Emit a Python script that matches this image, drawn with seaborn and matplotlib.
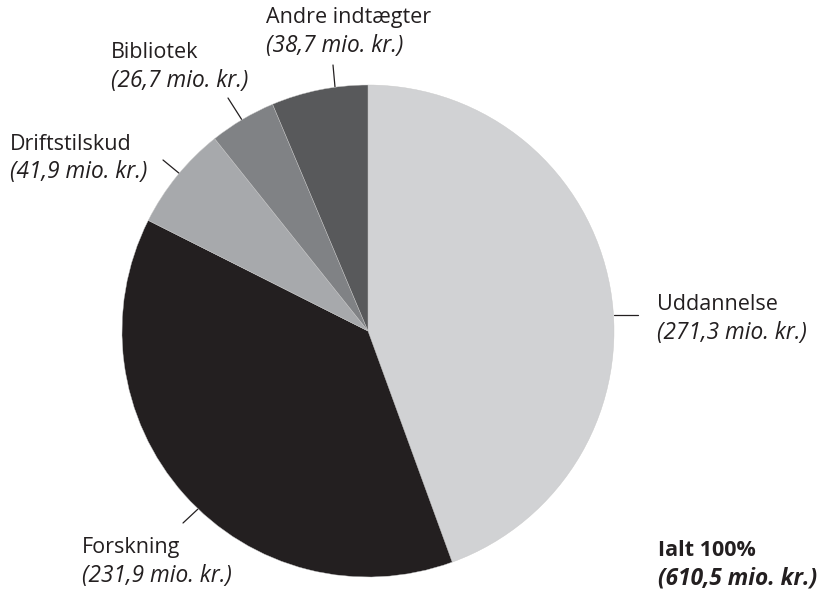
import matplotlib
matplotlib.use("Agg")
import matplotlib.pyplot as plt
import seaborn as sns

categories = ["Uddannelse", "Forskning", "Driftstilskud", "Bibliotek", "Andre indtægter"]
values = [271.3, 231.9, 41.9, 26.7, 38.7]
value_labels = ["(271,3 mio. kr.)", "(231,9 mio. kr.)", "(41,9 mio. kr.)", "(26,7 mio. kr.)", "(38,7 mio. kr.)"]
total_label = "Ialt 100%"
total_value_label = "(610,5 mio. kr.)"
colors = ["#d1d2d4", "#231f20", "#a7a9ac", "#808285", "#58595b"]

sns.set_style("white")
plt.rcParams['font.family'] = ['Open Sans', 'DejaVu Sans']

W, H = 821, 599
fig = plt.figure(figsize=(W / 100, H / 100), dpi=100)
ax = fig.add_axes([0, 0, 1, 1])
ax.set_xlim(0, W)
ax.set_ylim(H, 0)
ax.axis("off")

# pie axes placed in pixel frame
cx, cy, r = 368, 331, 246
pax = fig.add_axes([(cx - r) / W, 1 - (cy + r) / H, 2 * r / W, 2 * r / H])
pax.pie(values, colors=colors, startangle=90, counterclock=False,
        wedgeprops=dict(linewidth=0.3, edgecolor="#c8c8c8"))
pax.set_xlim(-1, 1)
pax.set_ylim(-1, 1)
pax.axis("off")

txt = "#231f20"
fs = 15.5
fs_it = 16.3
label_pos = {
    "Uddannelse": (657, 305),
    "Forskning": (82, 548),
    "Driftstilskud": (10, 144),
    "Bibliotek": (111, 53),
    "Andre indtægter": (266, 18),
}
leaders = {
    "Uddannelse": ((614, 315), (638, 315)),
    "Forskning": ((183, 523), (198, 509)),
    "Driftstilskud": ((163, 160), (180, 174)),
    "Bibliotek": ((228, 98), (242, 120)),
    "Andre indtægter": ((333, 65), (335, 87)),
}
for cat, vl in zip(categories, value_labels):
    x, y = label_pos[cat]
    ax.text(x, y, cat, fontsize=fs, color=txt, ha="left", va="center")
    ax.text(x, y + 28, vl, fontsize=fs_it, color=txt, ha="left", va="center", style="italic")
    (x0, y0), (x1, y1) = leaders[cat]
    ax.plot([x0, x1], [y0, y1], color=txt, lw=0.9)

ax.text(658, 551, total_label, fontsize=fs, color=txt, ha="left", va="center", fontweight="bold")
ax.text(658, 579, total_value_label, fontsize=fs_it, color=txt, ha="left", va="center",
        fontweight="bold", style="italic")

fig.savefig("out.png", dpi=100)
